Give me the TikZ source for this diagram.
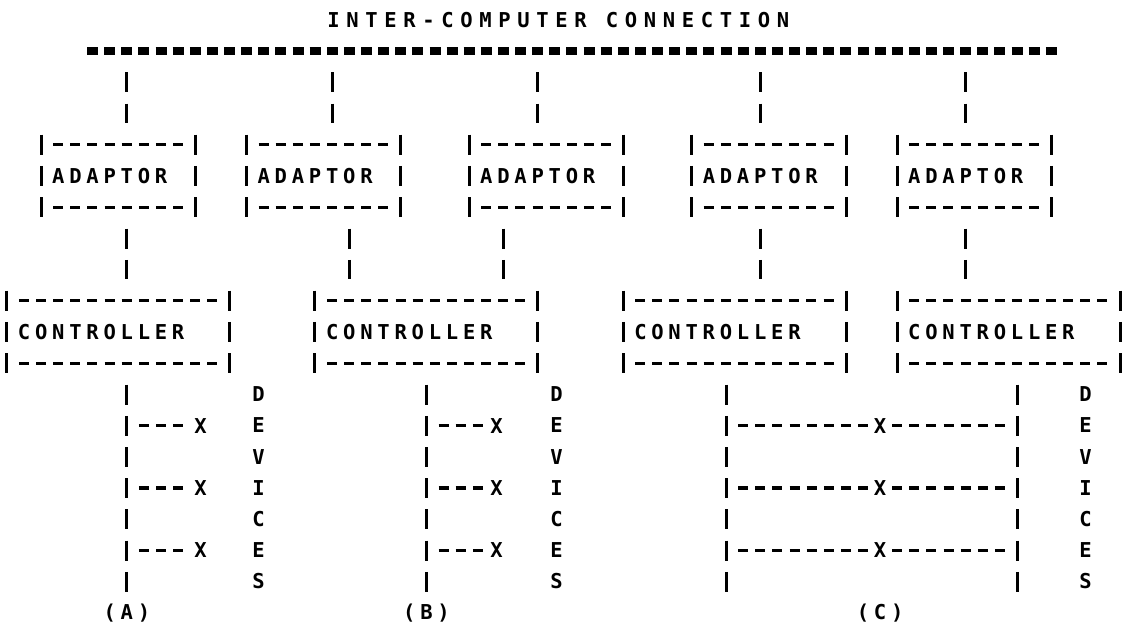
\documentclass[tikz,border=0pt]{standalone}
\usepackage{fontspec}
\usepackage{tikz}
\newfontfamily\prt[LetterSpace=23.3]{DejaVu Sans Mono Bold}
\newfontfamily\prthead[LetterSpace=32.5]{DejaVu Sans Mono Bold}

\begin{document}
\begin{tikzpicture}[
x=17.12pt,
y=-31.2pt,
txt/.style={font=\prt\fontsize{20.5}{31.2}\selectfont,inner sep=0pt},
head/.style={font=\prthead\fontsize{20.5}{31.2}\selectfont,inner sep=0pt},
box/.style={txt,minimum height=62.4pt},
adaptor/.style={box,minimum width=154.08pt},
controller/.style={box,minimum width=222.56pt},
busline/.style={line width=8.5pt,dash pattern=on 11pt off 6.12pt},
dashrow/.style={line width=3.5pt,dash pattern=on 10pt off 7.12pt},
barcol/.style={line width=3pt,dash pattern=on 20pt off 11.2pt},
bang/.style={barcol,shorten <=21.2pt,shorten >=21.2pt},
stub/.style={dashrow,shorten <=12.12pt,shorten >=12.12pt}
]

\useasboundingbox (-7pt,20pt) rectangle (1118pt,-607pt);

\node[head] (title) at (32.2,0) {INTER-COMPUTER CONNECTION};
\coordinate (busL) at (5,1);
\coordinate (busR) at (61,1);
\draw[busline] ([xshift=-5.5pt]busL) -- ([xshift=5.5pt]busR);

\node[adaptor] (ad1) at (6.5,5) {ADAPTOR\kern17.12pt};
\node[adaptor] (ad2) at (18.5,5) {ADAPTOR\kern17.12pt};
\node[adaptor] (ad3) at (31.5,5) {ADAPTOR\kern17.12pt};
\node[adaptor] (ad4) at (44.5,5) {ADAPTOR\kern17.12pt};
\node[adaptor] (ad5) at (56.5,5) {ADAPTOR\kern17.12pt};

\node[controller] (ct1) at (6.5,10) {CONTROLLER\kern34.24pt};
\node[controller] (ct2) at (24.5,10) {CONTROLLER\kern34.24pt};
\node[controller] (ct3) at (42.5,10) {CONTROLLER\kern34.24pt};
\node[controller] (ct4) at (58.5,10) {CONTROLLER\kern34.24pt};

\foreach \n in {ad1,ad2,ad3,ad4,ad5,ct1,ct2,ct3,ct4} {
  \draw[dashrow] ([xshift=12.12pt]\n.north west) -- ([xshift=-12.12pt]\n.north east);
  \draw[dashrow] ([xshift=12.12pt]\n.south west) -- ([xshift=-12.12pt]\n.south east);
  \draw[barcol] ([yshift=10pt]\n.north west) -- ([yshift=-10pt]\n.south west);
  \draw[barcol] ([yshift=10pt]\n.north east) -- ([yshift=-10pt]\n.south east);
}

\foreach \c/\a in {7/ad1,19/ad2,31/ad3,44/ad4,56/ad5}
  \draw[bang] (busL -| \c,0) -- (\a.north -| \c,0);
\foreach \c/\a/\t in {7/ad1/ct1,20/ad2/ct2,29/ad3/ct2,44/ad4/ct3,56/ad5/ct4}
  \draw[bang] (\a.south -| \c,0) -- (\t.north -| \c,0);

\node[txt] (la) at (7,19) {(A)};
\node[txt] (lb) at (24.5,19) {(B)};
\node[txt] (lc) at (51,19) {(C)};
\coordinate (cl) at (42,19);
\coordinate (cr) at (59,19);

\draw[bang] (ct1.south -| la) -- (la.center);
\draw[bang] (ct2.south -| lb) -- (lb.center);
\draw[bang] (ct3.south -| cl) -- (cl);
\draw[bang] (ct4.south -| cr) -- (cr);

\foreach \r [count=\i] in {13,15,17} {
  \node[txt] (xa\i) at (11.3,\r) {X};
  \node[txt] (xb\i) at (28.6,\r) {X};
  \node[txt] (xc\i) at (51,\r) {X};
  \draw[stub] (xa\i -| la) -- (xa\i.center);
  \draw[stub] (xb\i -| lb) -- (xb\i.center);
  \draw[stub] (xc\i -| cl) -- (xc\i.center);
  \draw[stub] (xc\i.center) -- (xc\i -| cr);
}

\node[txt,align=center] (dva) at (14.7,15) {D\\E\\V\\I\\C\\E\\S};
\node[txt,align=center] (dvb) at (32.1,15) {D\\E\\V\\I\\C\\E\\S};
\node[txt,align=center] (dvc) at (63,15) {D\\E\\V\\I\\C\\E\\S};

\end{tikzpicture}
\end{document}
